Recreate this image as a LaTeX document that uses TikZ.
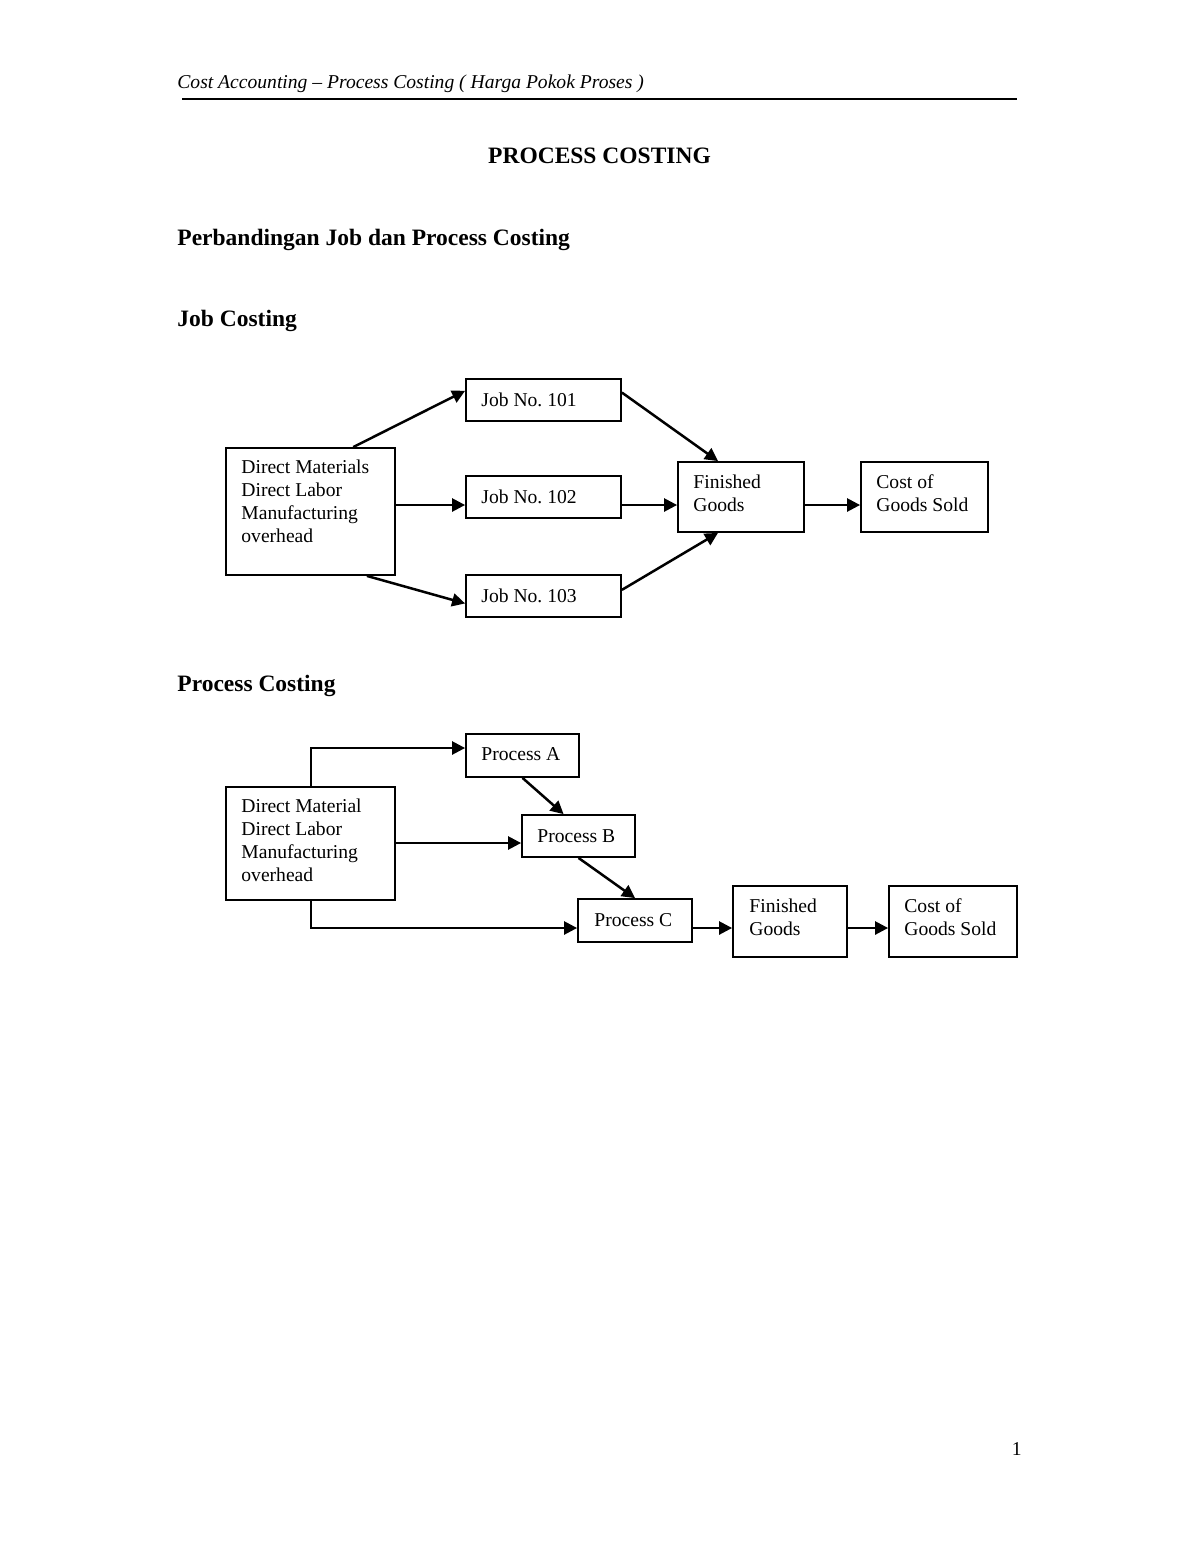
\documentclass[tikz,border=0pt]{standalone}
\usepackage{fontspec}
\setmainfont{Liberation Serif}
\usetikzlibrary{arrows.meta,fit,calc}
\frenchspacing
\begin{document}
\begin{tikzpicture}[x=0.5pt,y=-0.5pt,
  box/.style={draw, line width=0.9pt, inner sep=0pt},
  arr/.style={line width=1.25pt, -{Triangle[length=6.5pt,width=6.5pt]}},
  txt/.style={inner sep=0pt, anchor=base west, font=\fontsize{9.8}{11.5}\selectfont},
  head/.style={inner sep=0pt, anchor=base west, font=\bfseries\fontsize{11.75}{14}\selectfont}]
\useasboundingbox (0,0) rectangle (1200,1553);

% page header
\node[txt, font=\itshape\fontsize{9.8}{11.5}\selectfont] (hdr) at (177,88) {Cost Accounting – Process Costing ( Harga Pokok Proses )};
\coordinate (hl) at (182,99);
\coordinate (hr) at (1017,99);
\draw[line width=1.3pt] (hl) -- (hr);

% headings
\node[head, anchor=base] (title) at (599.5,163) {PROCESS COSTING};
\node[head] (h1) at (177,245) {Perbandingan Job dan Process Costing};
\node[head] (h2) at (177,326) {Job Costing};
\node[head] (h3) at (177,691) {Process Costing};

% ---------- Job costing ----------
\node[box, fit={(226,448)(395,575)}] (dmJ) {};
\node[box, fit={(466,379)(621,421)}] (j1) {};
\node[box, fit={(466,476)(621,518)}] (j2) {};
\node[box, fit={(466,575)(621,617)}] (j3) {};
\node[box, fit={(678,462)(804,532)}] (fgJ) {};
\node[box, fit={(861,462)(988,532)}] (cgJ) {};

\node[txt] at (241,473) {\begin{tabular}[t]{@{}l@{}}Direct Materials\\Direct Labor\\Manufacturing\\overhead\end{tabular}};
\node[txt] at (481,406) {Job No. 101};
\node[txt] at (481,503) {Job No. 102};
\node[txt] at (481,602) {Job No. 103};
\node[txt] at (693,488) {\begin{tabular}[t]{@{}l@{}}Finished\\Goods\end{tabular}};
\node[txt] at (876,488) {\begin{tabular}[t]{@{}l@{}}Cost of\\Goods Sold\end{tabular}};

\coordinate (rowJ) at (0,505);
\draw[arr] ($(dmJ.north west)!0.75!(dmJ.north east)$) -- ($(j1.north west)!0.29!(j1.south west)$);
\draw[arr] (dmJ.east |- rowJ) -- (j2.west |- rowJ);
\draw[arr] ($(dmJ.south west)!0.83!(dmJ.south east)$) -- ($(j3.north west)!0.67!(j3.south west)$);
\draw[arr] ($(j1.north east)!0.33!(j1.south east)$) -- ($(fgJ.north west)!0.32!(fgJ.north east)$);
\draw[arr] (j2.east |- rowJ) -- (fgJ.west |- rowJ);
\draw[arr] ($(j3.north east)!0.36!(j3.south east)$) -- ($(fgJ.south west)!0.32!(fgJ.south east)$);
\draw[arr] (fgJ.east |- rowJ) -- (cgJ.west |- rowJ);

% ---------- Process costing ----------
\node[box, fit={(226,787)(395,900)}] (dmP) {};
\node[box, fit={(466,734)(579,777)}] (pA) {};
\node[box, fit={(522,815)(635,857)}] (pB) {};
\node[box, fit={(578,899)(692,942)}] (pC) {};
\node[box, fit={(733,886)(847,957)}] (fgP) {};
\node[box, fit={(889,886)(1017,957)}] (cgP) {};

\node[txt] at (241,812) {\begin{tabular}[t]{@{}l@{}}Direct Material\\Direct Labor\\Manufacturing\\overhead\end{tabular}};
\node[txt] at (481,760) {Process A};
\node[txt] at (537,842) {Process B};
\node[txt] at (594,926) {Process C};
\node[txt] at (749,912) {\begin{tabular}[t]{@{}l@{}}Finished\\Goods\end{tabular}};
\node[txt] at (904,912) {\begin{tabular}[t]{@{}l@{}}Cost of\\Goods Sold\end{tabular}};

\coordinate (colP) at (311,0);
\coordinate (rowA) at (0,748);
\coordinate (rowB) at (0,843);
\coordinate (rowC) at (0,928);
\draw[arr] (dmP.north -| colP) |- (pA.west |- rowA);
\draw[arr] (pA.south) -- ($(pB.north west)!0.37!(pB.north east)$);
\draw[arr] (dmP.east |- rowB) -- (pB.west |- rowB);
\draw[arr] (pB.south) -- (pC.north);
\draw[arr] (dmP.south -| colP) |- (pC.west |- rowC);
\draw[arr] (pC.east |- rowC) -- (fgP.west |- rowC);
\draw[arr] (fgP.east |- rowC) -- (cgP.west |- rowC);

% page number
\node[txt, anchor=base east] (pg) at (1022,1455) {1};
\end{tikzpicture}
\end{document}
